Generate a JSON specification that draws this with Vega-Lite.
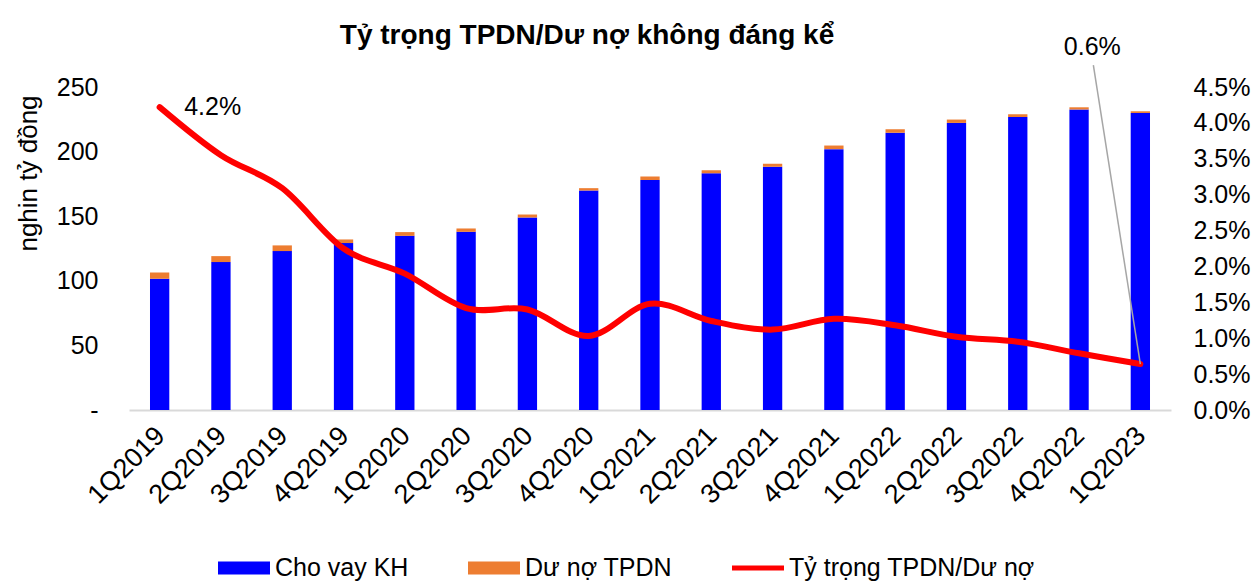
{
  "$schema": "https://vega.github.io/schema/vega-lite/v6.json",
  "autosize": {"type": "none"},
  "width": 1042,
  "height": 323,
  "padding": {"left": 129, "top": 87, "right": 87, "bottom": 172},
  "background": "white",
  "config": {
    "font": "Liberation Sans",
    "view": {"stroke": null},
    "axis": {"grid": false, "ticks": false, "labelColor": "#000000", "titleColor": "#000000", "titleFontWeight": "normal", "labelOverlap": false}
  },
  "title": {
    "text": "Tỷ trọng TPDN/Dư nợ không đáng kể",
    "fontSize": 28,
    "fontWeight": "bold",
    "color": "#000000",
    "anchor": "middle",
    "frame": "group",
    "orient": "top",
    "baseline": "alphabetic",
    "dx": -63,
    "offset": -37
  },
  "data": {
    "values": [
      {"q": "1Q2019", "Cho vay KH": 101.5, "Dư nợ TPDN": 5.0, "pct": 0.0422},
      {"q": "2Q2019", "Cho vay KH": 114.5, "Dư nợ TPDN": 4.6, "pct": 0.0355},
      {"q": "3Q2019", "Cho vay KH": 123.0, "Dư nợ TPDN": 4.4, "pct": 0.0309},
      {"q": "4Q2019", "Cho vay KH": 129.2, "Dư nợ TPDN": 2.8, "pct": 0.0225},
      {"q": "1Q2020", "Cho vay KH": 134.8, "Dư nợ TPDN": 2.9, "pct": 0.0190},
      {"q": "2Q2020", "Cho vay KH": 137.9, "Dư nợ TPDN": 2.6, "pct": 0.0142},
      {"q": "3Q2020", "Cho vay KH": 149.0, "Dư nợ TPDN": 2.3, "pct": 0.0140},
      {"q": "4Q2020", "Cho vay KH": 169.9, "Dư nợ TPDN": 1.8, "pct": 0.0103},
      {"q": "1Q2021", "Cho vay KH": 178.1, "Dư nợ TPDN": 2.6, "pct": 0.0148},
      {"q": "2Q2021", "Cho vay KH": 183.3, "Dư nợ TPDN": 2.3, "pct": 0.0124},
      {"q": "3Q2021", "Cho vay KH": 188.2, "Dư nợ TPDN": 2.3, "pct": 0.0112},
      {"q": "4Q2021", "Cho vay KH": 201.9, "Dư nợ TPDN": 2.8, "pct": 0.0127},
      {"q": "1Q2022", "Cho vay KH": 214.5, "Dư nợ TPDN": 2.8, "pct": 0.0118},
      {"q": "2Q2022", "Cho vay KH": 222.2, "Dư nợ TPDN": 2.6, "pct": 0.0102},
      {"q": "3Q2022", "Cho vay KH": 226.8, "Dư nợ TPDN": 2.1, "pct": 0.0095},
      {"q": "4Q2022", "Cho vay KH": 232.6, "Dư nợ TPDN": 1.7, "pct": 0.0079},
      {"q": "1Q2023", "Cho vay KH": 229.9, "Dư nợ TPDN": 1.3, "pct": 0.0064}
    ]
  },
  "encoding": {
    "x": {
      "field": "q",
      "type": "nominal",
      "sort": null,
      "scale": {"paddingInner": 0.685, "paddingOuter": 0.3425},
      "axis": {
        "title": null,
        "labelAngle": -45,
        "labelFontSize": 27,
        "labelPadding": 12,
        "labelOffset": -8,
        "domainColor": "#D9D9D9",
        "domainWidth": 2
      }
    }
  },
  "layer": [
    {
      "transform": [{"fold": ["Cho vay KH", "Dư nợ TPDN"], "as": ["series", "value"]}],
      "mark": {"type": "bar"},
      "encoding": {
        "y": {
          "field": "value",
          "type": "quantitative",
          "stack": "zero",
          "scale": {"domain": [0, 250], "nice": false},
          "axis": {
            "title": "nghin tỷ đồng",
            "titleFontSize": 26,
            "titleX": -101,
            "titleY": 86,
            "titleAngle": -90,
            "titleAlign": "center",
            "titleBaseline": "middle",
            "values": [0, 50, 100, 150, 200, 250],
            "labelExpr": "datum.value == 0 ? '-' : datum.label",
            "labelFontSize": 25,
            "labelPadding": 31,
            "labelOverlap": false,
            "domain": false
          }
        },
        "color": {
          "field": "series",
          "type": "nominal",
          "scale": {
            "domain": ["Cho vay KH", "Dư nợ TPDN", "Tỷ trọng TPDN/Dư nợ"],
            "range": ["#0000FF", "#ED7D31", "#FF0000"]
          },
          "legend": {
            "title": null,
            "orient": "none",
            "legendX": 102,
            "legendY": 468,
            "direction": "horizontal",
            "labelFontSize": 25,
            "labelLimit": 0,
            "labelColor": "#000000",
            "symbolSize": 676,
            "labelOffset": 18,
            "columnPadding": 59,
            "padding": 0,
            "encode": {
              "symbols": {
                "update": {
                  "shape": {"signal": "datum.value === 'Tỷ trọng TPDN/Dư nợ' ? 'M-2,-0.2H2V0.2H-2Z' : 'M-2,-0.5H2V0.5H-2Z'"},
                  "fill": {"signal": "scale('color', datum.value)"},
                  "stroke": {"value": "transparent"},
                  "strokeWidth": {"value": 0},
                  "opacity": {"value": 1},
                  "fillOpacity": {"value": 1}
                }
              }
            }
          }
        },
        "order": {"field": "series", "sort": "ascending"}
      }
    },
    {
      "encoding": {
        "y": {
          "field": "pct",
          "type": "quantitative",
          "scale": {"domain": [0, 0.045], "nice": false},
          "axis": {
            "orient": "right",
            "title": null,
            "format": ".1%",
            "values": [0, 0.005, 0.01, 0.015, 0.02, 0.025, 0.03, 0.035, 0.04, 0.045],
            "labelFontSize": 25,
            "labelPadding": 22,
            "labelOverlap": false,
            "labelBound": false,
            "labelFlush": false,
            "domain": false
          }
        }
      },
      "layer": [
        {
          "mark": {"type": "line", "interpolate": "cardinal", "strokeWidth": 6, "strokeCap": "round"},
          "encoding": {
            "color": {"datum": "Tỷ trọng TPDN/Dư nợ"}
          }
        },
        {
          "transform": [{"filter": "datum.q === '1Q2019'"}],
          "mark": {"type": "text", "fontSize": 25, "align": "center", "baseline": "middle", "dx": 53, "color": "#000000"},
          "encoding": {
            "text": {"field": "pct", "format": ".1%"}
          }
        },
        {
          "transform": [{"filter": "datum.q === '1Q2023'"}],
          "mark": {"type": "rule", "color": "#A6A6A6", "strokeWidth": 1.5, "x2Offset": -47, "y2Offset": -299},
          "encoding": {
            "y2": {"field": "pct"},
            "x2": {"field": "q"}
          }
        },
        {
          "transform": [{"filter": "datum.q === '1Q2023'"}],
          "mark": {"type": "text", "fontSize": 25, "align": "center", "baseline": "middle", "dx": -48, "dy": -317, "color": "#000000"},
          "encoding": {
            "text": {"field": "pct", "format": ".1%"}
          }
        }
      ]
    }
  ],
  "resolve": {"scale": {"y": "independent"}}
}
